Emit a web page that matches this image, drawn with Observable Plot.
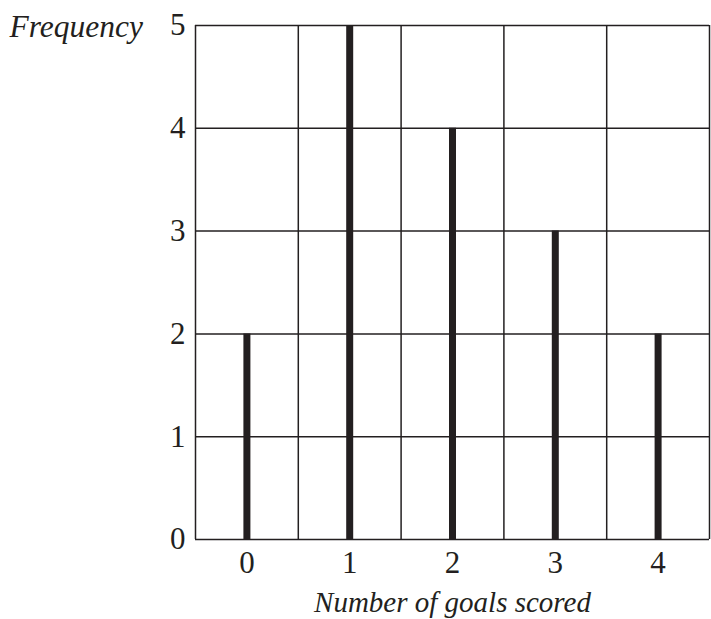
<!DOCTYPE html>
<html>
<head>
<meta charset="utf-8">
<script src="https://cdn.jsdelivr.net/npm/d3@7"></script>
<script src="https://cdn.jsdelivr.net/npm/@observablehq/plot@0.6"></script>
<style>
  html, body { margin: 0; padding: 0; background: #fff; }
  #chart svg { display: block; }
  #chart svg, #chart svg text { font-family: "Liberation Serif", "Times New Roman", serif !important; }
</style>
</head>
<body>
<div id="chart"></div>
<script>
const goals = [0, 1, 2, 3, 4];
const frequency = [2, 5, 4, 3, 2];
const yTicks = [0, 1, 2, 3, 4, 5];
const xGridLines = [-0.5, 0.5, 1.5, 2.5, 3.5, 4.5];
const xLabel = "Number of goals scored";
const yLabel = "Frequency";

const data = goals.map((g, i) => ({goals: g, frequency: frequency[i]}));
const ink = "#231f20";

const chart = Plot.plot({
  width: 711,
  height: 619,
  marginLeft: 195,
  marginRight: 2,
  marginTop: 25,
  marginBottom: 80,
  style: {color: ink, background: "#fff"},
  x: {domain: [-0.5, 4.5], label: null},
  y: {domain: [0, 5], label: null},
  marks: [
    Plot.ruleY(yTicks, {stroke: ink, strokeWidth: 1.5}),
    Plot.ruleX(xGridLines, {stroke: ink, strokeWidth: 1.5}),
    Plot.ruleX(data, {x: "goals", y1: 0, y2: "frequency", stroke: ink, strokeWidth: 7}),
    Plot.axisX({ticks: goals, tickFormat: d3.format("d"), tickSize: 0, tickPadding: 11, label: null, fontSize: 31, fill: ink}),
    Plot.axisY({ticks: yTicks, tickFormat: d3.format("d"), tickSize: 0, tickPadding: 10, label: null, fontSize: 31, fill: ink}),
    Plot.text([yLabel], {frameAnchor: "top-left", dx: -186, dy: 1, textAnchor: "start", lineAnchor: "middle", fontStyle: "italic", fontSize: 31.5, fill: ink}),
    Plot.text([xLabel], {frameAnchor: "bottom", dy: 63, lineAnchor: "middle", fontStyle: "italic", fontSize: 29, fill: ink})
  ]
});
document.getElementById("chart").appendChild(chart);
</script>
</body>
</html>
